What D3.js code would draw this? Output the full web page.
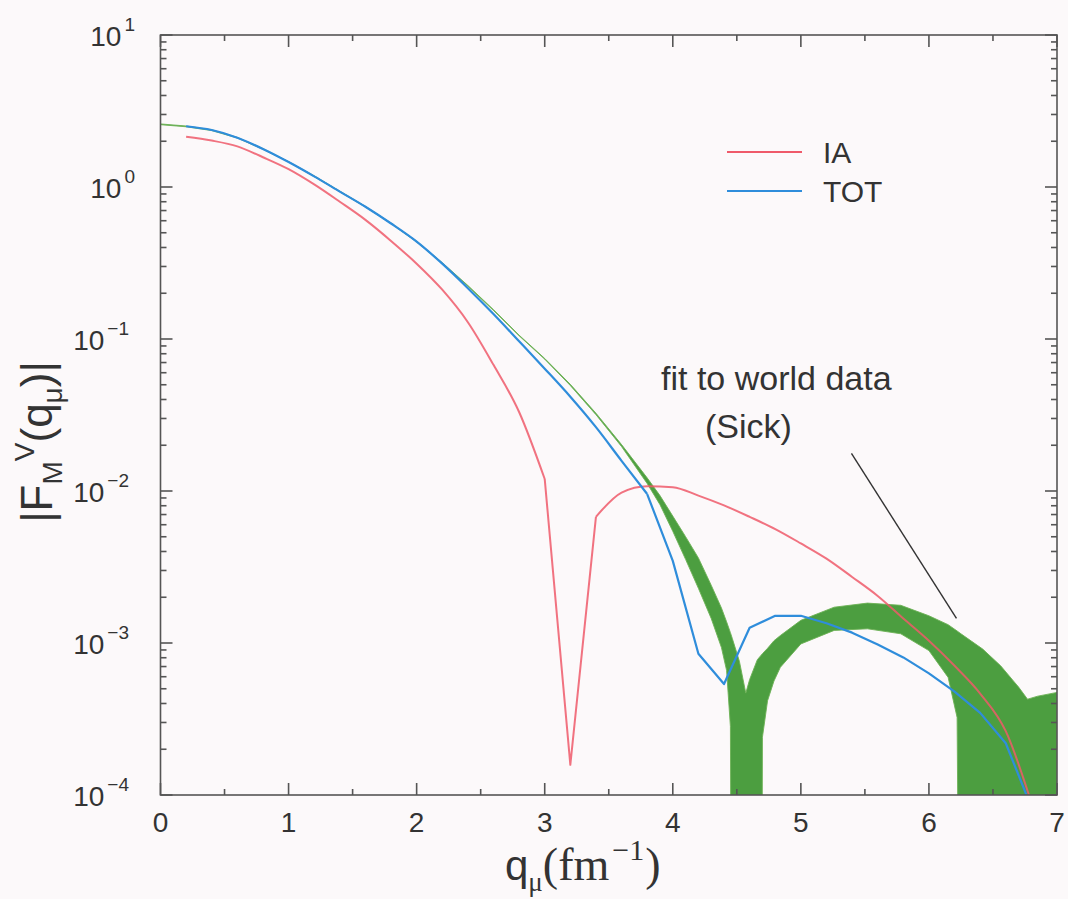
<!DOCTYPE html>
<html>
<head>
<meta charset="utf-8">
<script src="https://cdn.jsdelivr.net/npm/d3@7"></script>
<style>
  html, body { margin: 0; padding: 0; background: #fcf9fa; }
  svg { display: block; }
  text { fill: #333; }
</style>
</head>
<body>
<svg id="chart" width="1068" height="899"></svg>
<script>
// Momentum transfer grid of the calculations (fm^-1)
const qCalc = [0.2, 0.4, 0.6, 0.8, 1.0, 1.2, 1.4, 1.6, 1.8, 2.0, 2.2, 2.4, 2.6, 2.8, 3.0, 3.2, 3.4,
               3.6, 3.8, 4.0, 4.2, 4.4, 4.6, 4.8, 5.0, 5.2, 5.4, 5.6, 5.8, 6.0, 6.2, 6.4, 6.6, 6.8];

// Impulse approximation |F_M^V|
const fIA = [2.14, 2.02, 1.85, 1.57, 1.31, 1.04, 0.80, 0.608, 0.442, 0.313, 0.211, 0.129, 0.0676,
             0.0331, 0.0120, 1.58e-4, 6.76e-3, 9.77e-3, 1.076e-2, 1.059e-2, 9.33e-3, 8.04e-3,
             6.76e-3, 5.62e-3, 4.52e-3, 3.59e-3, 2.72e-3, 2.04e-3, 1.45e-3, 1.035e-3, 7.08e-4,
             4.65e-4, 2.63e-4, 8.9e-5];

// Full calculation with exchange currents |F_M^V|
const fTOT = [2.51, 2.37, 2.11, 1.78, 1.46, 1.175, 0.933, 0.741, 0.575, 0.437, 0.313, 0.216, 0.146,
              0.0966, 0.0638, 0.0417, 0.0263, 0.0158, 9.55e-3, 3.47e-3, 8.5e-4, 5.37e-4, 1.26e-3,
              1.51e-3, 1.51e-3, 1.35e-3, 1.17e-3, 9.77e-4, 8.04e-4, 6.31e-4, 4.79e-4, 3.47e-4,
              2.19e-4, 8.3e-5];

// Momentum ranges [from, to] drawn point to point; the rest of each curve is smoothed
const straightIA = [3.0, 3.4];
const straightTOT = [3.8, 6.8];

// Fit to world data (Sick): upper and lower edge of the error band, 0 where the band reaches zero
const qFit = [0.0, 0.2, 0.4, 0.6, 0.8, 1.0, 1.2, 1.4, 1.6, 1.8, 2.0, 2.2, 2.4, 2.6, 2.8, 3.0, 3.2,
              3.4, 3.6, 3.8, 3.9, 4.0, 4.1, 4.2, 4.3, 4.38, 4.42, 4.45, 4.465, 4.52, 4.57, 4.60,
              4.66, 4.69, 4.70, 4.74, 4.79, 4.84, 5.0, 5.26, 5.52, 5.78, 6.0, 6.15, 6.22, 6.25,
              6.42, 6.56, 6.70, 6.77, 6.85, 7.0];
const fitUpper = [2.60, 2.52, 2.38, 2.12, 1.79, 1.47, 1.185, 0.940, 0.746, 0.580, 0.440, 0.318, 0.225,
                  0.156, 0.106, 0.0745, 0.0503, 0.0325, 0.0202, 0.0122, 9.33e-3, 6.84e-3, 5.01e-3,
                  3.63e-3, 2.40e-3, 1.70e-3, 1.38e-3, 1.17e-3, 1.07e-3, 7.59e-4, 4.68e-4, 5.75e-4,
                  7.76e-4, 8.32e-4, 8.51e-4, 9.23e-4, 1.035e-3, 1.12e-3, 1.41e-3, 1.72e-3, 1.83e-3,
                  1.77e-3, 1.51e-3, 1.32e-3, 1.20e-3, 1.15e-3, 9.12e-4, 7.08e-4, 5.13e-4, 4.27e-4,
                  4.47e-4, 4.73e-4];
const fitLower = [2.57, 2.49, 2.35, 2.10, 1.77, 1.46, 1.17, 0.930, 0.738, 0.574, 0.435, 0.315, 0.222,
                  0.154, 0.105, 0.0737, 0.0494, 0.0318, 0.0196, 0.0112, 8.13e-3, 5.43e-3, 3.55e-3,
                  2.29e-3, 1.45e-3, 9.33e-4, 6.61e-4, 2.82e-4, 0, 0, 0, 0,
                  0, 0, 2.40e-4, 4.17e-4, 5.62e-4, 6.92e-4, 9.86e-4, 1.21e-3, 1.24e-3,
                  1.15e-3, 8.91e-4, 5.94e-4, 3.24e-4, 0, 0, 0, 0, 0,
                  0, 0];

// Axis ticks
const xMajor = [0, 1, 2, 3, 4, 5, 6, 7];
const xMinor = [0.5, 1.5, 2.5, 3.5, 4.5, 5.5, 6.5];
const yDecades = [-4, -3, -2, -1, 0, 1];

// Legend and annotation
const legendItems = [{ name: "IA", color: "#ef5a6a" }, { name: "TOT", color: "#2f8ddb" }];
const noteLines = ["fit to world data", "(Sick)"];
const notePointer = [[5.395, 0.0177], [6.215, 1.45e-3]];

const svg = d3.select("#chart");
const plotLeft = 160.5, plotRight = 1057, plotTop = 35, plotBottom = 795;

const x = d3.scaleLinear().domain([0, 7]).range([plotLeft, plotRight]);
const y = d3.scaleLog().domain([1e-4, 10]).range([plotBottom, plotTop]);
const yv = v => y(Math.max(v, 1e-7));

svg.append("defs").append("clipPath").attr("id", "plot-clip")
  .append("rect").attr("x", plotLeft).attr("y", plotTop)
  .attr("width", plotRight - plotLeft).attr("height", plotBottom - plotTop);

const plot = svg.append("g").attr("clip-path", "url(#plot-clip)");

// Error band of the fit
const band = qFit.map((q, i) => ({ q, hi: fitUpper[i], lo: fitLower[i] }));
plot.append("path")
  .datum(band)
  .attr("d", d3.area().x(d => x(d.q)).y0(d => yv(d.lo)).y1(d => yv(d.hi)))
  .attr("fill", "#4c9e40")
  .attr("stroke", "#6cb155")
  .attr("stroke-width", 0.9)
  .attr("stroke-linejoin", "round");

// Calculated curves: smoothed pieces plus one point-to-point stretch
const smoothLine = d3.line().x(d => x(d[0])).y(d => yv(d[1])).curve(d3.curveMonotoneX);
const straightLine = d3.line().x(d => x(d[0])).y(d => yv(d[1]));

function drawCurve(values, straight, color, width, opacity) {
  const eps = 1e-9;
  const pts = qCalc.map((q, i) => [q, values[i]]);
  const g = plot.append("g").attr("fill", "none").attr("stroke", color)
    .attr("stroke-width", width).attr("stroke-opacity", opacity).attr("stroke-linejoin", "round");
  const before = pts.filter(p => p[0] <= straight[0] + eps);
  const mid = pts.filter(p => p[0] >= straight[0] - eps && p[0] <= straight[1] + eps);
  const after = pts.filter(p => p[0] >= straight[1] - eps);
  if (before.length > 1) g.append("path").attr("d", smoothLine(before));
  g.append("path").attr("d", straightLine(mid));
  if (after.length > 1) g.append("path").attr("d", smoothLine(after));
}
drawCurve(fIA, straightIA, legendItems[0].color, 2, 0.85);
drawCurve(fTOT, straightTOT, legendItems[1].color, 2.2, 1);

// Frame and ticks on all four sides
const axisColor = "#555";
const frame = svg.append("g").attr("stroke", axisColor).attr("stroke-width", 1.6);
frame.append("rect").attr("x", plotLeft).attr("y", plotTop)
  .attr("width", plotRight - plotLeft).attr("height", plotBottom - plotTop).attr("fill", "none");

const majorLen = 12, minorLen = 6;
function xTick(q, len) {
  frame.append("line").attr("x1", x(q)).attr("x2", x(q)).attr("y1", plotBottom).attr("y2", plotBottom - len);
  frame.append("line").attr("x1", x(q)).attr("x2", x(q)).attr("y1", plotTop).attr("y2", plotTop + len);
}
xMajor.forEach(q => xTick(q, majorLen));
xMinor.forEach(q => xTick(q, minorLen));

function yTick(v, len) {
  frame.append("line").attr("x1", plotLeft).attr("x2", plotLeft + len).attr("y1", y(v)).attr("y2", y(v));
  frame.append("line").attr("x1", plotRight).attr("x2", plotRight - len).attr("y1", y(v)).attr("y2", y(v));
}
yDecades.forEach(e => {
  yTick(Math.pow(10, e), majorLen);
  if (e < 1) for (let m = 2; m <= 9; m++) yTick(m * Math.pow(10, e), minorLen);
});

// Tick labels
const sans = "'Liberation Sans', Arial, Helvetica, sans-serif";
const serif = "'Liberation Serif', 'Times New Roman', serif";

svg.append("g").selectAll("text").data(xMajor).join("text")
  .attr("x", d => x(d)).attr("y", 832)
  .attr("text-anchor", "middle")
  .attr("font-family", sans).attr("font-size", 28)
  .text(d => d);

yDecades.forEach(e => {
  const t = svg.append("text")
    .attr("x", e < 0 ? 129 : 135).attr("y", y(Math.pow(10, e)) + 11)
    .attr("text-anchor", "end")
    .attr("font-family", sans).attr("font-size", 28);
  t.append("tspan").text("10");
  t.append("tspan").attr("dy", -15).attr("dx", 3).attr("font-size", 19)
    .text(e < 0 ? "\u2212" + (-e) : String(e));
});

// Axis titles
const xt = svg.append("text").attr("x", 505).attr("y", 880)
  .attr("font-family", serif).attr("font-size", 46);
xt.append("tspan").attr("font-family", sans).attr("font-size", 42).text("q");
xt.append("tspan").attr("font-size", 27).attr("dy", 11).text("\u03bc");
xt.append("tspan").attr("dy", -11).text("(fm");
xt.append("tspan").attr("font-size", 30).attr("dy", -20).attr("dx", 3).text("\u22121");
xt.append("tspan").attr("dy", 20).attr("dx", 1).text(")");

const yt = svg.append("text")
  .attr("transform", "translate(52,442) rotate(-90)")
  .attr("text-anchor", "middle")
  .attr("font-family", sans).attr("font-size", 44);
yt.append("tspan").text("|F");
yt.append("tspan").attr("font-size", 28).attr("dy", 10).text("M");
yt.append("tspan").attr("font-size", 28).attr("dy", -28).text("V");
yt.append("tspan").attr("dy", 18).text("(q");
yt.append("tspan").attr("font-size", 28).attr("dy", 10).text("\u03bc");
yt.append("tspan").attr("dy", -10).text(")|");

// Legend
const lg = svg.append("g");
legendItems.forEach((d, i) => {
  const ly = 152 + i * 39;
  lg.append("line").attr("x1", 727).attr("x2", 802).attr("y1", ly).attr("y2", ly)
    .attr("stroke", d.color).attr("stroke-width", 2);
  lg.append("text").attr("x", 823).attr("y", ly + 11)
    .attr("font-family", sans).attr("font-size", 30).text(d.name);
});

// Annotation for the fit band
svg.append("g").selectAll("text").data(noteLines).join("text")
  .attr("x", (d, i) => i === 0 ? 661 : 705)
  .attr("y", (d, i) => 390 + i * 48)
  .attr("font-family", sans).attr("font-size", 34)
  .text(d => d);

svg.append("line")
  .attr("x1", x(notePointer[0][0])).attr("y1", y(notePointer[0][1]))
  .attr("x2", x(notePointer[1][0])).attr("y2", y(notePointer[1][1]))
  .attr("stroke", "#333").attr("stroke-width", 1.4);
</script>
</body>
</html>
